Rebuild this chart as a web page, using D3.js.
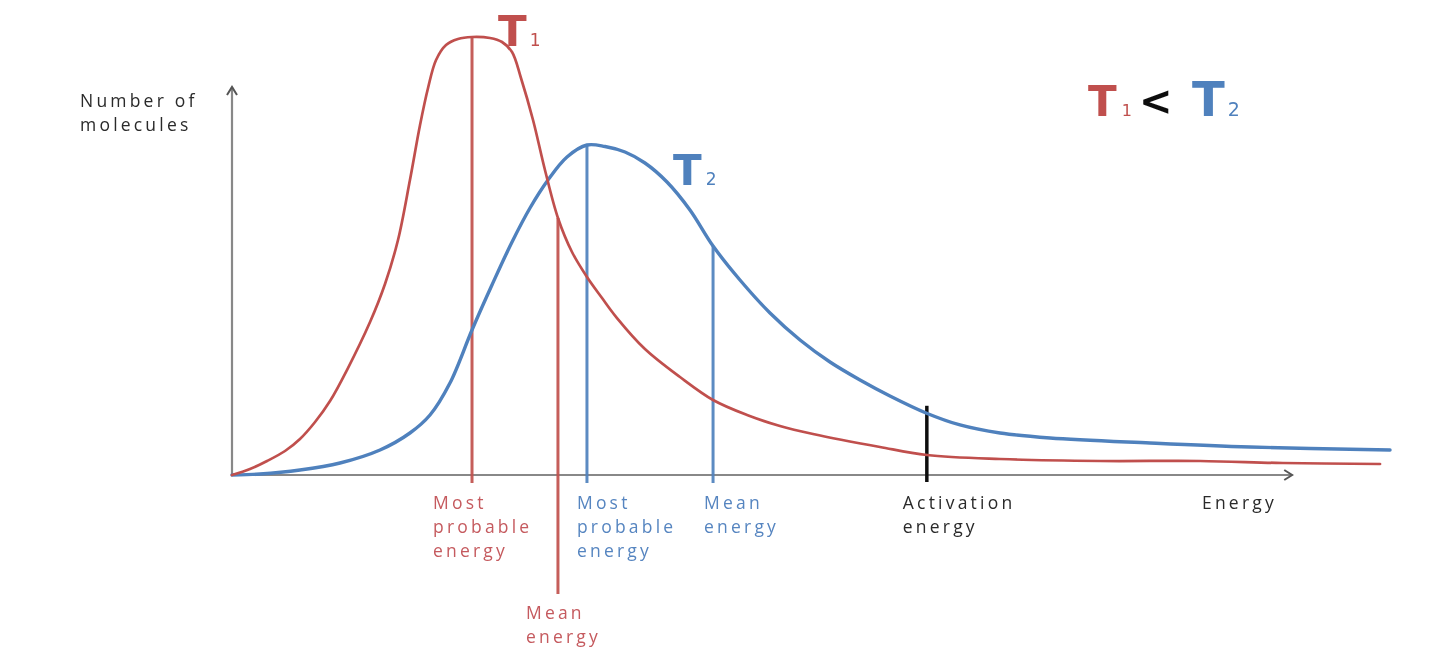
<!DOCTYPE html>
<html>
<head>
<meta charset="utf-8">
<script src="https://cdn.jsdelivr.net/npm/d3@7"></script>
<style>
  html, body { margin: 0; padding: 0; background: #fff; }
  #chart { width: 1440px; height: 659px; }
  .lbl { font-family: "Open Sans", sans-serif; }
  .tname { font-family: "DejaVu Sans", sans-serif; }
</style>
</head>
<body>
<div id="chart"></div>
<script>
// energy (0-100) / number of molecules (0-100, T1 peak = 100)
const energyT1 = [0, 1.55, 3.02, 4.57, 5.86, 7.16, 8.45, 9.91, 11.9, 13.19, 14.31, 15.34, 16.21, 16.9,
  17.59, 18.45, 19.48, 20.69, 22.24, 23.28, 24.14, 24.91, 25.95, 26.98, 28.1, 29.31, 30.6, 31.9,
  33.19, 35.6, 38.62, 41.47, 44.4, 47.24, 50.09, 55.86, 59.91, 66.21, 74.83, 83.45, 90.6, 98.97];
const countT1 = [0, 1.37, 3.2, 5.48, 8.22, 12.1, 16.89, 23.97, 34.93, 43.61, 53.65, 67.35, 79.91, 88.36,
  94.75, 98.17, 99.54, 100, 99.77, 98.86, 96.58, 90.64, 81.05, 69.63, 58.68, 50.91, 45.21, 40.41,
  35.84, 28.77, 22.37, 17.12, 13.7, 11.19, 9.36, 6.39, 4.57, 3.65, 3.2, 3.2, 2.74, 2.51];

const energyT2 = [0, 2.41, 5.86, 9.31, 12.76, 15.34, 17.07, 18.79, 20.69, 22.41, 24.14, 25.69, 27.24,
  28.88, 30.6, 32.16, 33.88, 35.6, 37.5, 39.48, 41.47, 43.79, 46.38, 48.97, 51.55, 54.14, 56.72,
  59.83, 62.76, 66.21, 70.52, 79.14, 87.76, 99.83];
const countT2 = [0, 0.23, 1.14, 2.74, 5.71, 9.59, 13.7, 21.0, 33.11, 43.38, 53.2, 60.96, 67.35,
  72.6, 75.34, 75.0, 73.74, 71.23, 66.89, 60.5, 52.28, 44.52, 36.99, 30.82, 25.8, 21.69, 18.04,
  14.16, 11.42, 9.59, 8.45, 7.31, 6.39, 5.71];

const markerSeries = ['t1', 't1', 't2', 't2', 'act'];
const markerEnergy = [20.69, 28.1, 30.6, 41.47, 59.9];
const markerCount = [100, 58.7, 75.3, 52.3, 15.8];
const markerLabels = [
  ['Most', 'probable', 'energy'],
  ['Mean', 'energy'],
  ['Most', 'probable', 'energy'],
  ['Mean', 'energy'],
  ['Activation', 'energy']
];

const yAxisLabel = ['Number of', 'molecules'];
const xAxisLabel = 'Energy';
const axisMaxEnergy = 91.4;
const axisMaxCount = 88.6;

class EnergyChart {
  constructor(parent) {
    this.parent = parent;
    this.width = 1440;
    this.height = 659;
    this.colors = { t1: '#c0504d', t2: '#4f81bd', act: '#111' };
    this.textColors = { t1: '#c55a5e', t2: '#5685c0', act: '#2a2a2a' };
    // per-marker layout: how far the line drops under the axis, label offsets
    this.drop = [8, 119, 8, 8, 7];
    this.labelDx = [-39, -32, -10, -9, -24];
    this.labelDy = [34, 144, 34, 34, 34];
    this.fontSize = 17.5;
    this.spacing = 3.2;
    this.initVis();
    this.updateVis();
  }

  initVis() {
    this.svg = d3.select(this.parent)
      .append('svg')
      .attr('width', this.width)
      .attr('height', this.height);

    const defs = this.svg.append('defs');
    defs.append('filter')
      .attr('id', 'soft')
      .append('feGaussianBlur')
      .attr('stdDeviation', 0.6);

    defs.append('marker')
      .attr('id', 'arrow')
      .attr('viewBox', '0 0 12 12')
      .attr('refX', 10)
      .attr('refY', 6)
      .attr('markerWidth', 12)
      .attr('markerHeight', 12)
      .attr('markerUnits', 'userSpaceOnUse')
      .attr('orient', 'auto')
      .append('path')
      .attr('d', 'M2,1 L10,6 L2,11')
      .attr('fill', 'none')
      .attr('stroke', '#555')
      .attr('stroke-width', 2);

    this.x = d3.scaleLinear().domain([0, 100]).range([232, 1392]);
    this.y = d3.scaleLinear().domain([0, 100]).range([475, 37]);

    this.g = this.svg.append('g').attr('filter', 'url(#soft)');
  }

  updateVis() {
    const x = this.x;
    const y = this.y;
    const g = this.g;

    // axes
    g.append('line')
      .attr('x1', x(0)).attr('x2', x(axisMaxEnergy))
      .attr('y1', y(0)).attr('y2', y(0))
      .attr('stroke', '#888').attr('stroke-width', 2.2)
      .attr('marker-end', 'url(#arrow)');
    g.append('line')
      .attr('x1', x(0)).attr('x2', x(0))
      .attr('y1', y(0)).attr('y2', y(axisMaxCount))
      .attr('stroke', '#888').attr('stroke-width', 2.2)
      .attr('marker-end', 'url(#arrow)');

    const markers = markerEnergy.map((e, i) => ({
      series: markerSeries[i],
      energy: e,
      count: markerCount[i],
      lines: markerLabels[i],
      drop: this.drop[i],
      dx: this.labelDx[i],
      dy: this.labelDy[i]
    }));

    g.selectAll('.marker')
      .data(markers)
      .join('line')
      .attr('class', 'marker')
      .attr('x1', d => x(d.energy)).attr('x2', d => x(d.energy))
      .attr('y1', d => y(d.count)).attr('y2', d => y(0) + d.drop)
      .attr('stroke', d => this.colors[d.series])
      .attr('stroke-width', d => (d.series === 'act' ? 3.5 : 3))
      .attr('stroke-opacity', d => (d.series === 'act' ? 1 : 0.92));

    const line = d3.line()
      .x(d => x(d[0]))
      .y(d => y(d[1]))
      .curve(d3.curveCatmullRom.alpha(0.5));

    const curves = [
      { key: 't2', pts: d3.zip(energyT2, countT2) },
      { key: 't1', pts: d3.zip(energyT1, countT1) }
    ];

    g.selectAll('.curve')
      .data(curves)
      .join('path')
      .attr('class', 'curve')
      .attr('d', d => line(d.pts))
      .attr('fill', 'none')
      .attr('stroke', d => this.colors[d.key])
      .attr('stroke-width', d => (d.key === 't2' ? 3.4 : 2.7))
      .attr('stroke-linecap', 'round');

    // marker labels, one text per line
    const lineData = markers.flatMap(d => d.lines.map((t, j) => ({ t, j, d })));
    g.selectAll('.mlabel')
      .data(lineData)
      .join('text')
      .attr('class', 'lbl mlabel')
      .attr('font-size', this.fontSize)
      .attr('letter-spacing', this.spacing)
      .attr('fill', o => this.textColors[o.d.series])
      .attr('x', o => x(o.d.energy) + o.d.dx)
      .attr('y', o => y(0) + o.d.dy + o.j * 24)
      .text(o => o.t);

    g.append('text')
      .attr('class', 'lbl')
      .attr('x', 1202).attr('y', y(0) + 34)
      .attr('font-size', this.fontSize).attr('letter-spacing', this.spacing)
      .attr('fill', '#2a2a2a')
      .text(xAxisLabel);

    g.selectAll('.ylabel')
      .data(yAxisLabel)
      .join('text')
      .attr('class', 'lbl ylabel')
      .attr('font-size', this.fontSize).attr('letter-spacing', this.spacing)
      .attr('fill', '#2a2a2a')
      .attr('x', 80)
      .attr('y', (d, i) => 107 + i * 24)
      .text(d => d);

    // curve names
    this.tempLabel(g, 498, 46, 't1', '1', 42, 17, 3);
    this.tempLabel(g, 673, 185, 't2', '2', 42, 17, 4);

    // T1 < T2
    const legend = g.append('g');
    this.tempLabel(legend, 1088, 116, 't1', '1', 42, 16, 5);
    legend.append('text')
      .attr('class', 'tname')
      .attr('x', 1139).attr('y', 115)
      .attr('font-size', 40).attr('font-weight', 700)
      .attr('fill', '#111')
      .text('<');
    this.tempLabel(legend, 1192, 116, 't2', '2', 48, 19, 3);
  }

  tempLabel(sel, px, py, key, sub, size, subSize, gap) {
    const t = sel.append('text')
      .attr('class', 'tname')
      .attr('x', px).attr('y', py)
      .attr('fill', this.colors[key]);
    t.append('tspan')
      .attr('font-size', size)
      .attr('font-weight', 700)
      .text('T');
    t.append('tspan')
      .attr('font-size', subSize)
      .attr('dx', gap)
      .text(sub);
  }
}

new EnergyChart('#chart');
</script>
</body>
</html>
